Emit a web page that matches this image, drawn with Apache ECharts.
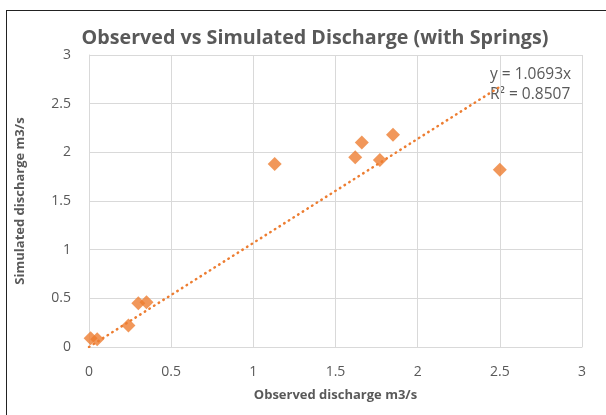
<!DOCTYPE html>
<html>
<head>
<meta charset="utf-8">
<script src="https://cdn.jsdelivr.net/npm/echarts@6/dist/echarts.min.js"></script>
<style>
html,body{margin:0;padding:0;background:#fff;}
#frame{position:absolute;left:6px;top:10px;width:600px;height:405px;border-top:1.5px solid #222;border-left:1.5px solid #222;box-sizing:border-box;}
#chart{position:absolute;left:0;top:0;width:606px;height:415px;}
</style>
</head>
<body>
<div id="frame"></div>
<div id="chart"></div>
<script>
const observed = [0.01, 0.05, 0.24, 0.30, 0.35, 1.13, 1.62, 1.66, 1.77, 1.85, 2.50];
const simulated = [0.09, 0.08, 0.22, 0.45, 0.46, 1.88, 1.95, 2.10, 1.92, 2.18, 1.82];
const slope = 1.0693;
const rSquared = 0.8507;
const xTicks = [0, 0.5, 1, 1.5, 2, 2.5, 3];
const yTicks = [0, 0.5, 1, 1.5, 2, 2.5, 3];

const points = observed.map((x, i) => [x, simulated[i]]);
const xMax = Math.max(...observed);
const trend = [[0, 0], [xMax, slope * xMax]];
const FONT = 'Open Sans';
const chart = echarts.init(document.getElementById('chart'));
chart.setOption({
  backgroundColor: 'transparent',
  animation: false,
  title: [{
    text: 'Observed vs Simulated Discharge (with Springs)',
    left: 310, top: 23, textAlign: 'center',
    textStyle: {fontFamily: FONT, fontWeight: 'bold', fontSize: 19.7, color: '#595959'}
  }],
  graphic: [{
    type: 'text', left: 490, top: 67,
    style: {text: 'y = ' + slope + 'x', fontFamily: FONT, fontSize: 15.5, fill: '#595959'}
  }, {
    type: 'text', left: 490, top: 87,
    style: {text: 'R² = ' + rSquared, fontFamily: FONT, fontSize: 15.5, fill: '#595959'}
  }],
  grid: {left: 89, right: 24, top: 55, bottom: 68},
  xAxis: {
    type: 'value', min: xTicks[0], max: xTicks[xTicks.length - 1], interval: 0.5,
    name: 'Observed discharge m3/s', nameLocation: 'middle', nameGap: 42,
    nameTextStyle: {fontFamily: FONT, fontWeight: 'bold', fontSize: 13, color: '#595959'},
    axisLine: {show: true, lineStyle: {color: '#d9d9d9'}},
    axisTick: {show: false},
    axisLabel: {fontFamily: FONT, fontSize: 14, color: '#595959', margin: 18},
    splitLine: {show: true, lineStyle: {color: '#d9d9d9', width: 1}}
  },
  yAxis: {
    type: 'value', min: yTicks[0], max: yTicks[yTicks.length - 1], interval: 0.5,
    name: 'Simulated discharge m3/s', nameLocation: 'middle', nameGap: 62,
    nameTextStyle: {fontFamily: FONT, fontWeight: 'bold', fontSize: 13, color: '#595959'},
    axisLine: {show: true, lineStyle: {color: '#d9d9d9'}},
    axisTick: {show: false},
    axisLabel: {fontFamily: FONT, fontSize: 14, color: '#595959', margin: 18},
    splitLine: {show: true, lineStyle: {color: '#d9d9d9', width: 1}}
  },
  series: [{
    type: 'line', data: trend, symbol: 'none', silent: true,
    lineStyle: {color: '#ED7D31', width: 2.5, type: [0.5, 5], cap: 'round'},
    z: 1
  }, {
    type: 'scatter', data: points, symbol: 'diamond', symbolSize: 14,
    itemStyle: {color: '#ED7D31'}, z: 2
  }]
});
</script>
</body>
</html>
